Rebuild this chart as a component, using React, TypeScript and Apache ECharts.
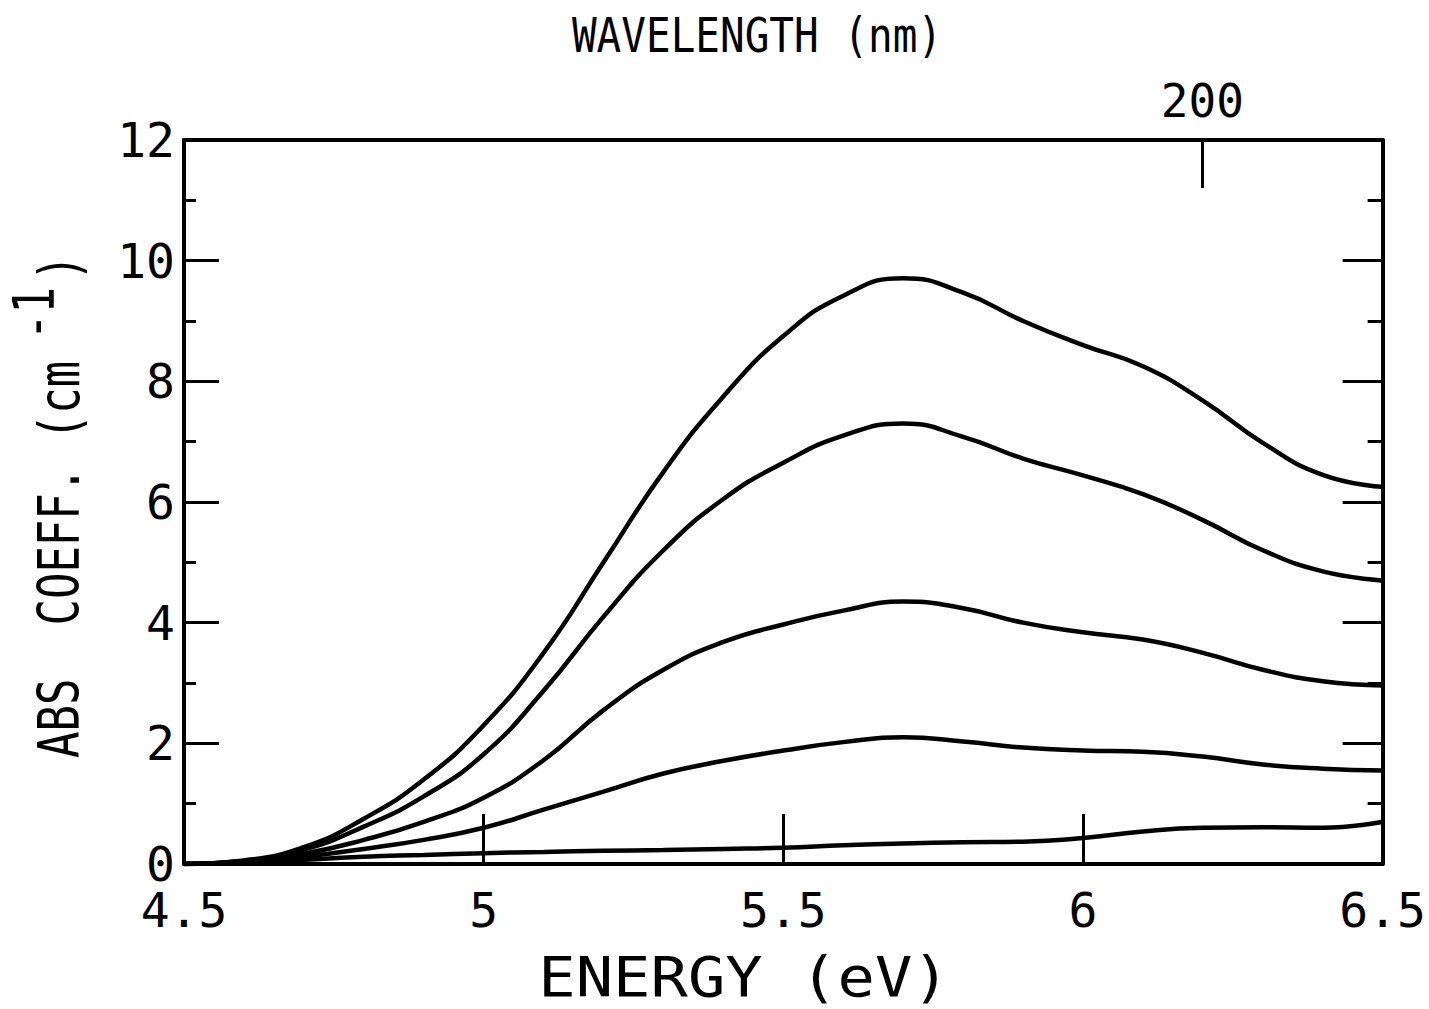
import React, { useEffect, useRef } from "react";
import * as echarts from "echarts";

// Photon energy (eV) sample points
const energy = [4.5, 4.6, 4.7, 4.8, 4.9, 5.0, 5.1, 5.2, 5.3, 5.4, 5.5, 5.6, 5.7, 5.8, 5.9, 6.0, 6.1, 6.2, 6.3, 6.4, 6.5];

// Absorption coefficient curves (cm^-1), top to bottom
const curve1 = [0.0, 0.06, 0.28, 0.75, 1.4, 2.3, 3.5, 5.0, 6.5, 7.75, 8.75, 9.42, 9.71, 9.47, 9.0, 8.6, 8.25, 7.68, 6.98, 6.45, 6.25];
const curve2 = [0.0, 0.05, 0.24, 0.62, 1.12, 1.82, 2.87, 4.1, 5.2, 6.05, 6.65, 7.1, 7.3, 7.08, 6.72, 6.44, 6.13, 5.7, 5.2, 4.85, 4.7];
const curve3 = [0.0, 0.04, 0.17, 0.4, 0.7, 1.1, 1.72, 2.55, 3.22, 3.68, 3.97, 4.2, 4.35, 4.24, 4.0, 3.84, 3.72, 3.5, 3.22, 3.03, 2.96];
const curve4 = [0.0, 0.03, 0.12, 0.25, 0.4, 0.6, 0.9, 1.2, 1.5, 1.71, 1.88, 2.02, 2.1, 2.03, 1.93, 1.88, 1.86, 1.78, 1.65, 1.58, 1.55];
const curve5 = [0.0, 0.02, 0.07, 0.12, 0.15, 0.18, 0.2, 0.22, 0.23, 0.25, 0.27, 0.31, 0.34, 0.36, 0.37, 0.43, 0.54, 0.6, 0.61, 0.6, 0.7];

const curves = [curve1, curve2, curve3, curve4, curve5];

// Axis ticks
const energyTicks = [5, 5.5, 6];
const wavelengthTicksNm = [200];
const HC_EV_NM = 1239.84;

const FONT = '"DejaVu Sans Mono", monospace';

export default function App() {
  const ref = useRef<HTMLDivElement>(null);

  useEffect(() => {
    if (!ref.current) return;
    const chart = echarts.init(ref.current, null, { renderer: "svg" });

    const wlEnergies = wavelengthTicksNm.map((nm) => HC_EV_NM / nm);

    const option: any = {
      animation: false,
      backgroundColor: "#fff",
      grid: { left: 184, right: 41, top: 140, bottom: 145, containLabel: false },
      xAxis: [
        {
          type: "value",
          position: "bottom",
          min: 4.5,
          max: 6.5,
          interval: 0.5,
          axisLine: { show: true, onZero: false, lineStyle: { color: "#000", width: 4 } },
          axisTick: {
            show: true,
            inside: true,
            length: 50,
            customValues: energyTicks,
            lineStyle: { color: "#000", width: 3 },
          },
          axisLabel: {
            show: true,
            margin: 27,
            color: "#000",
            fontFamily: FONT,
            fontSize: 48,
            lineHeight: 38,
            formatter: (v: number) => String(v),
          },
          splitLine: { show: false },
        },
        {
          type: "value",
          position: "top",
          min: 4.5,
          max: 6.5,
          axisLine: { show: true, onZero: false, lineStyle: { color: "#000", width: 4 } },
          axisTick: {
            show: true,
            inside: true,
            length: 48,
            customValues: wlEnergies,
            lineStyle: { color: "#000", width: 3 },
          },
          axisLabel: {
            show: true,
            margin: 20,
            color: "#000",
            fontFamily: FONT,
            fontSize: 46,
            lineHeight: 38,
            customValues: wlEnergies,
            formatter: (v: number) => String(Math.round(HC_EV_NM / v)),
          },
          splitLine: { show: false },
        },
      ],
      yAxis: [
        {
          type: "value",
          position: "left",
          min: 0,
          max: 12,
          interval: 2,
          axisLine: { show: true, onZero: false, lineStyle: { color: "#000", width: 4 } },
          axisTick: { show: true, inside: true, length: 35, lineStyle: { color: "#000", width: 3 } },
          minorTick: { show: true, splitNumber: 2, length: 12, lineStyle: { color: "#000", width: 3 } },
          axisLabel: { show: true, margin: 9, color: "#000", fontFamily: FONT, fontSize: 48, lineHeight: 38 },
          splitLine: { show: false },
          minorSplitLine: { show: false },
        },
        {
          type: "value",
          position: "right",
          min: 0,
          max: 12,
          interval: 2,
          axisLine: { show: true, onZero: false, lineStyle: { color: "#000", width: 4 } },
          axisTick: { show: true, inside: true, length: 40, lineStyle: { color: "#000", width: 3 } },
          minorTick: { show: true, splitNumber: 2, length: 15, lineStyle: { color: "#000", width: 3 } },
          axisLabel: { show: false },
          splitLine: { show: false },
          minorSplitLine: { show: false },
        },
      ],
      series: curves.map((c, idx) => ({
        type: "line",
        name: "curve" + (idx + 1),
        xAxisIndex: 0,
        yAxisIndex: 0,
        data: energy.map((e, i) => [e, c[i]]),
        showSymbol: false,
        symbol: "none",
        smooth: 0.5,
        lineStyle: { color: "#000", width: 4.5 },
        z: 3,
      })),
      graphic: [
        {
          type: "text",
          x: 757,
          y: 36,
          scaleY: 1.17,
          style: {
            text: "WAVELENGTH (nm)",
            font: `41px ${FONT}`,
            fill: "#000",
            textAlign: "center",
            textVerticalAlign: "middle",
          },
        },
        {
          type: "text",
          x: 744,
          y: 977,
          scaleX: 1.13,
          style: {
            text: "ENERGY (eV)",
            font: `55px ${FONT}`,
            fill: "#000",
            textAlign: "center",
            textVerticalAlign: "middle",
          },
        },
        {
          type: "group",
          x: 59,
          y: 758,
          rotation: Math.PI / 2,
          children: [
            {
              type: "text",
              x: 0,
              y: 0,
              scaleY: 1.3,
              style: {
                text: "ABS  COEFF. (cm",
                font: `44px ${FONT}`,
                fill: "#000",
                textAlign: "left",
                textVerticalAlign: "middle",
              },
            },
            {
              type: "text",
              x: 418,
              y: -25,
              scaleY: 1.3,
              style: {
                text: "-1",
                font: `44px ${FONT}`,
                fill: "#000",
                textAlign: "left",
                textVerticalAlign: "middle",
              },
            },
            {
              type: "text",
              x: 477,
              y: 0,
              scaleY: 1.3,
              style: {
                text: ")",
                font: `44px ${FONT}`,
                fill: "#000",
                textAlign: "left",
                textVerticalAlign: "middle",
              },
            },
          ],
        },
      ],
    };

    chart.setOption(option);
    return () => chart.dispose();
  }, []);

  return (
    <div
      ref={ref}
      style={{ position: "absolute", left: 0, top: 0, width: 1429, height: 1009, background: "#fff" }}
    />
  );
}
